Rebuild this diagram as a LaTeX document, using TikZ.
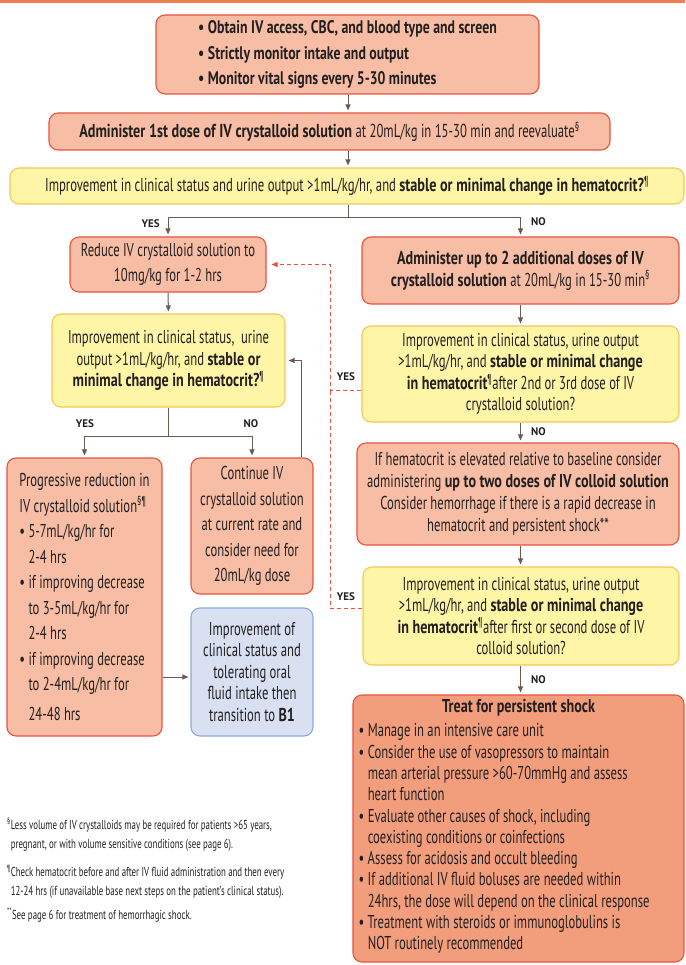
\documentclass[tikz,border=0pt]{standalone}
\usepackage{fontspec}
\setmainfont{PT Sans}[FakeStretch=0.68, BoldFeatures={FakeStretch=0.76}]
\newfontfamily\lblfont{PT Sans}
\usetikzlibrary{arrows.meta}
\definecolor{salmon}{HTML}{F7BEA5}
\definecolor{redb}{HTML}{E9523E}
\definecolor{yel}{HTML}{FFF5A6}
\definecolor{yelb}{HTML}{F5C856}
\definecolor{blu}{HTML}{D8E0F2}
\definecolor{blub}{HTML}{8FA8DA}
\definecolor{dsalmon}{HTML}{F29E7C}
\definecolor{arr}{HTML}{6B5A50}
\definecolor{txt}{HTML}{231F20}
\definecolor{topbar}{HTML}{F07E4E}
\newcommand\fsA{\fontsize{18.2}{25.5}\selectfont}
\newcommand\fsB{\fontsize{18.7}{21}\selectfont}
\newcommand\fsC{\fontsize{18.6}{25.5}\selectfont}
\newcommand\fsD{\fontsize{18.6}{22}\selectfont}
\newcommand\fsE{\fontsize{18.6}{21.5}\selectfont}
\newcommand\fsF{\fontsize{13}{19}\selectfont}
\newcommand\ind{\phantom{\textbullet\ }}
\tikzset{
  base/.style={rounded corners=9pt, line width=1.1pt, inner sep=0pt, text=txt, align=center},
  rbox/.style={base, draw=redb, fill=salmon},
  ybox/.style={base, draw=yelb, fill=yel},
  bbox/.style={base, draw=blub, fill=blu},
  tbox/.style={base, draw=redb, fill=dsalmon},
  conn/.style={draw=arr, line width=1pt, -{Triangle[length=6pt,width=5pt]}, shorten >=2pt},
  plainline/.style={draw=arr, line width=1pt},
  rdash/.style={draw=redb, line width=1pt, dash pattern=on 4pt off 3pt},
  lbl/.style={font=\lblfont\bfseries\fontsize{11}{12}\selectfont, text=txt, inner sep=0pt},
  intext/.style={inner sep=0pt, text=txt, align=left},
}
\begin{document}
\begin{tikzpicture}[x=1pt,y=-1pt]
\useasboundingbox (0,0) rectangle (685,965);
\fill[topbar] (0,0) rectangle (685,3.5);

\node[rbox, minimum width=383pt, minimum height=79pt, align=left, font=\bfseries\fsA] (b1) at (347.5,54.5)
 {\textbullet\ Obtain IV access, CBC, and blood type and screen\\\textbullet\ Strictly monitor intake and output\\\textbullet\ Monitor vital signs every 5-30 minutes};
\node[rbox, minimum width=561pt, minimum height=37pt, font=\fsB] (b2) at (329.5,131.5)
 {\textbf{Administer 1st dose of IV crystalloid solution} at 20mL/kg in 15-30 min and reevaluate\textsuperscript{§}};
\node[ybox, minimum width=674pt, minimum height=36pt, font=\fsB] (b3) at (347,186)
 {Improvement in clinical status and urine output >1mL/kg/hr, and \textbf{stable or minimal change in hematocrit?}\textsuperscript{¶}};

\node[rbox, minimum width=196pt, minimum height=55pt, font=\fsC] (reduce) at (168,264.5)
 {Reduce IV crystalloid solution to\\10mg/kg for 1-2 hrs};
\node[ybox, minimum width=233pt, minimum height=93pt, font=\fsE] (yl) at (168.5,360.5)
 {Improvement in clinical status,~ urine\\output >1mL/kg/hr, and \textbf{stable or}\\\textbf{minimal change in hematocrit?}\textsuperscript{¶}};
\node[rbox, minimum width=155pt, minimum height=278pt, align=left, font=\fsC] (prog) at (84.5,597)
 {Progressive reduction in\\IV crystalloid solution\textsuperscript{§¶}\\\textbullet\ 5-7mL/kg/hr for\\\ind 2-4 hrs\\\textbullet\ if improving decrease\\\ind to 3-5mL/kg/hr for\\\ind 2-4 hrs\\\textbullet\ if improving decrease\\\ind to 2-4mL/kg/hr for\\[4pt]\ind 24-48 hrs};
\node[rbox, minimum width=122pt, minimum height=136pt, font=\fsC] (cont) at (252,526)
 {Continue IV\\crystalloid solution\\at current rate and\\consider need for\\20mL/kg dose};
\node[bbox, minimum width=122pt, minimum height=128pt, font=\fsE] (blue) at (252,672)
 {Improvement of\\clinical status and\\tolerating oral\\fluid intake then\\transition to \textbf{B1}};

\node[rbox, minimum width=317pt, minimum height=67pt, font=\fsD] (adm) at (520.5,270.5)
 {\textbf{Administer up to 2 additional doses of IV}\\\textbf{crystalloid solution} at 20mL/kg in 15-30 min\textsuperscript{§}};
\node[ybox, minimum width=317pt, minimum height=96pt, font=\fsE] (yr1) at (520.5,374)
 {Improvement in clinical status, urine output\\>1mL/kg/hr, and \textbf{stable or minimal change}\\\textbf{in hematocrit}\textsuperscript{¶}after 2nd or 3rd dose of IV\\crystalloid solution?};
\node[rbox, minimum width=322pt, minimum height=102pt, font=\fsD] (hem) at (518,494)
 {If hematocrit is elevated relative to baseline consider\\administering \textbf{up to two doses of IV colloid solution}\\Consider hemorrhage if there is a rapid decrease in\\hematocrit and persistent shock**};
\node[ybox, minimum width=316pt, minimum height=98pt, font=\fsE] (yr2) at (521,616)
 {Improvement in clinical status, urine output\\>1mL/kg/hr, and \textbf{stable or minimal change}\\\textbf{in hematocrit}\textsuperscript{¶}after first or second dose of IV\\colloid solution?};
\node[tbox, minimum width=331pt, minimum height=267pt] (treat) at (518.5,828.5) {};
\node[intext, anchor=north, font=\bfseries\fsE] (treath) at ([yshift=-5pt]treat.north) {Treat for persistent shock};
\node[intext, anchor=north west, font=\fontsize{18.6}{21.3}\selectfont] (treatl) at ([xshift=6pt, yshift=-29pt]treat.north west)
 {\textbullet\ Manage in an intensive care unit\\
  \textbullet\ Consider the use of vasopressors to maintain\\
  \ind mean arterial pressure >60-70mmHg and assess\\
  \ind heart function\\
  \textbullet\ Evaluate other causes of shock, including\\
  \ind coexisting conditions or coinfections\\
  \textbullet\ Assess for acidosis and occult bleeding\\
  \textbullet\ If additional IV fluid boluses are needed within\\
  \ind 24hrs, the dose will depend on the clinical response\\
  \textbullet\ Treatment with steroids or immunoglobulins is\\
  \ind NOT routinely recommended};

\node[intext, anchor=north west, font=\fsF] (notes) at (7,818)
 {\textsuperscript{§}Less volume of IV crystalloids may be required for patients >65 years,\\
  \phantom{\textsuperscript{§}}pregnant, or with volume sensitive conditions (see page 6).\\[9pt]
  \textsuperscript{¶}Check hematocrit before and after IV fluid administration and then every\\
  \phantom{\textsuperscript{§}}12-24 hrs (if unavailable base next steps on the patient's clinical status).\\[5pt]
  \textsuperscript{**}See page 6 for treatment of hemorrhagic shock.};

% connectors
\coordinate (c0) at (348,0);
\draw[conn] (b1.south -| c0) -- (b2.north -| c0);
\draw[conn] (b2.south -| c0) -- (b3.north -| c0);
\coordinate (s1) at (348,218);
\draw[plainline] (b3.south -| s1) -- (s1);
\draw[conn] (s1) -| (reduce.north);
\draw[conn] (s1) -| (adm.north);
\node[lbl, anchor=east] (yes1) at (160,224) {YES};
\node[lbl, anchor=west] (no1) at (531,222) {NO};

\draw[conn] (reduce.south) -- (yl.north);
\coordinate (s2) at (168,436);
\draw[plainline] (yl.south -| s2) -- (s2);
\draw[conn] (s2) -| (prog.north);
\draw[conn] (s2) -| (cont.north);
\node[lbl] (yes2) at (85,424) {YES};
\node[lbl] (no2) at (251,424) {NO};
\draw[conn, shorten >=3pt] ([xshift=49pt]cont.north) |- (yl.east);
\coordinate (pb) at (0,677);
\draw[conn] (prog.east |- pb) -- (blue.west |- pb);

\draw[conn] (adm.south) -- (adm.south |- yr1.north);
\draw[conn] (adm.south |- yr1.south) -- (adm.south |- hem.north);
\draw[conn] (adm.south |- hem.south) -- (adm.south |- yr2.north);
\draw[conn] (adm.south |- yr2.south) -- (adm.south |- treat.north);
\node[lbl, anchor=west] (no3) at (531,432) {NO};
\node[lbl, anchor=west] (no4) at (531,680) {NO};

\coordinate (d1) at (330,390);
\coordinate (d2) at (330,608);
\draw[rdash] (yr2.west |- d2) -- (d2) -- (d1);
\draw[rdash, -{Triangle[length=6pt,width=5pt]}, shorten >=5pt] (yr1.west |- d1) -- (d1) |- (reduce.east);
\node[lbl] (yes3) at (346,377) {YES};
\node[lbl] (yes4) at (346,597) {YES};
\end{tikzpicture}
\end{document}
